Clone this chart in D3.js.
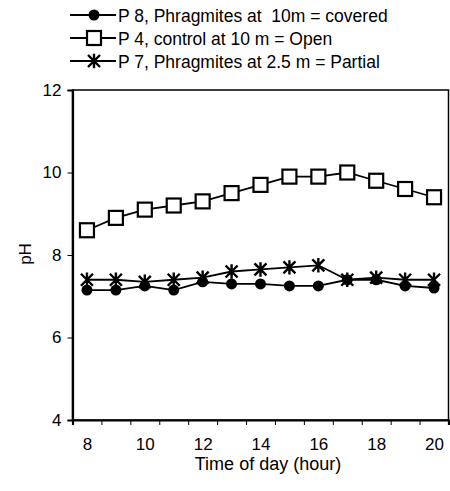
<!DOCTYPE html>
<html><head><meta charset="utf-8">
<script src="https://cdn.jsdelivr.net/npm/d3@7"></script>
<style>body{margin:0;background:#fff}text{font-family:Arial,"Liberation Sans",sans-serif;fill:#000;white-space:pre}</style>
</head><body>
<svg id="c" width="450" height="491"></svg>
<script>
const hours = [8,9,10,11,12,13,14,15,16,17,18,19,20];
const covered = [7.15,7.15,7.25,7.15,7.35,7.3,7.3,7.25,7.25,7.4,7.4,7.25,7.2];
const open = [8.6,8.9,9.1,9.2,9.3,9.5,9.7,9.9,9.9,10.0,9.8,9.6,9.4];
const partial = [7.4,7.4,7.35,7.4,7.45,7.6,7.65,7.7,7.75,7.4,7.45,7.4,7.4];
const xTickLabels = [8,10,12,14,16,18,20];
const yTicks = [4,6,8,10,12];
const seriesNames = ["P 8, Phragmites at  10m = covered","P 4, control at 10 m = Open","P 7, Phragmites at 2.5 m = Partial"];

const FF = "Arial, 'Liberation Sans', sans-serif";
const svg = d3.select("#c");
const L=72.5,R=448.5,T=90,B=420;
const x = d3.scaleLinear().domain([7.5,20.5]).range([L,R]);
const y = d3.scaleLinear().domain([4,12]).range([B,T]);

// frame
svg.append("rect").attr("x",L).attr("y",T).attr("width",R-L).attr("height",B-T)
  .attr("fill","none").attr("stroke","#000").attr("stroke-width",1.5);

// y axis
const ya = svg.append("g").attr("transform",`translate(${L},0)`)
  .call(d3.axisLeft(y).tickValues(yTicks).tickSize(5).tickPadding(6));
ya.select(".domain").attr("stroke-width",2.2);
ya.selectAll("text").attr("font-size",17).style("font-family",FF);

// x axis ticks (category boundaries)
const boundaries = hours.map(h=>h-0.5).concat([20.5]);
const xa = svg.append("g").attr("transform",`translate(0,${B})`)
  .call(d3.axisBottom(x).tickValues(boundaries).tickSize(5).tickFormat(""));
xa.select(".domain").attr("stroke-width",2.2);
const xl = svg.append("g").attr("transform",`translate(0,${B})`)
  .call(d3.axisBottom(x).tickValues(xTickLabels).tickSize(0).tickPadding(18));
xl.select(".domain").remove();
xl.selectAll("text").attr("font-size",17).style("font-family",FF);

svg.append("text").attr("x",268).attr("y",470).attr("text-anchor","middle").attr("font-size",18).text("Time of day (hour)");
svg.append("text").attr("transform","translate(31,254) rotate(-90)").attr("text-anchor","middle").attr("font-size",17).text("pH");

const line = d3.line().x((d,i)=>x(hours[i])).y(d=>y(d));

function starPath(s){
  const a=s/2;
  return `M${-a},${-a}L${a},${a}M${-a},${a}L${a},${-a}M0,${-a*1.2}L0,${a*1.2}`;
}
function drawMarker(g,type){
  if(type==="circle") g.append("circle").attr("r",5.5).attr("fill","#000");
  else if(type==="square") g.append("rect").attr("x",-7).attr("y",-7).attr("width",14).attr("height",14).attr("fill","#fff").attr("stroke","#000").attr("stroke-width",2.2);
  else g.append("path").attr("d",starPath(12)).attr("stroke","#000").attr("stroke-width",2.4).attr("fill","none");
}
const series = [
  {vals:open,type:"square"},
  {vals:covered,type:"circle"},
  {vals:partial,type:"star"}
];
series.forEach(s=>{
  svg.append("path").datum(s.vals).attr("d",line).attr("fill","none").attr("stroke","#000").attr("stroke-width",1.8);
  s.vals.forEach((v,i)=>{
    const g=svg.append("g").attr("transform",`translate(${x(hours[i])},${y(v)})`);
    drawMarker(g,s.type);
  });
});

// legend
const legTypes=["circle","square","star"];
const legY=[15,38,61];
legTypes.forEach((t,i)=>{
  svg.append("line").attr("x1",70).attr("x2",116).attr("y1",legY[i]).attr("y2",legY[i]).attr("stroke","#000").attr("stroke-width",1.8);
  const g=svg.append("g").attr("transform",`translate(94,${legY[i]})`);
  drawMarker(g,t);
  svg.append("text").attr("x",118).attr("y",legY[i]+6.5).attr("font-size",17.5).text(seriesNames[i]);
});
</script>
</body></html>
